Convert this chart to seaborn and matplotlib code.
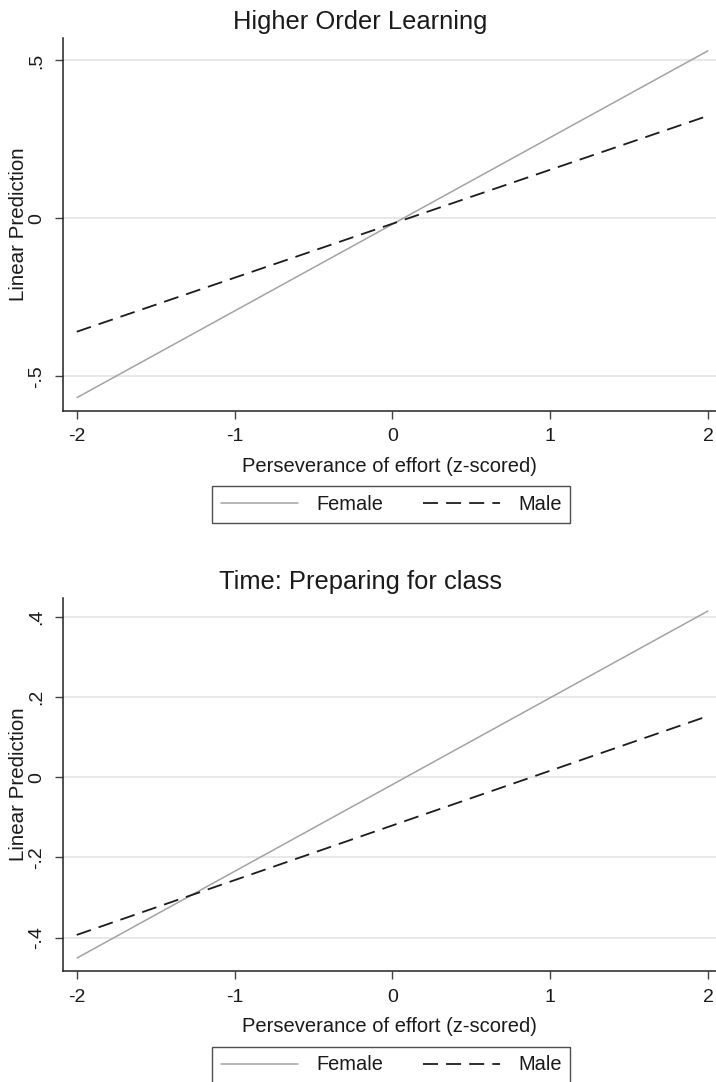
import matplotlib
matplotlib.use("Agg")
import matplotlib.pyplot as plt
import numpy as np
import pandas as pd
import seaborn as sns
from matplotlib.lines import Line2D

# Predicted outcomes at the ends of the effort range
effort_z = [-2, 2]
hol_female = [-0.568, 0.531]
hol_male = [-0.359, 0.325]
prep_female = [-0.451, 0.415]
prep_male = [-0.393, 0.153]

sexes = ["Female", "Male"]
hol_yticks = [-0.5, 0.0, 0.5]
hol_ylabels = ["-.5", "0", ".5"]
prep_yticks = [-0.4, -0.2, 0.0, 0.2, 0.4]
prep_ylabels = ["-.4", "-.2", "0", ".2", ".4"]
xticks = [-2, -1, 0, 1, 2]
xlabels = ["-2", "-1", "0", "1", "2"]

sns.set_theme(style="white")
plt.rcParams["font.family"] = ["Liberation Sans", "DejaVu Sans"]
plt.rcParams["text.color"] = "#1a1a1a"

W, H = 716, 1082
fig = plt.figure(figsize=(W / 100, H / 100), dpi=100)
fig.patch.set_facecolor("white")

palette = {"Female": "#a3a3a3", "Male": "#1c1c1c"}
dash_map = {"Female": "", "Male": (8.3, 4.5)}
widths = {"Female": 1.1, "Male": 1.3}


def make_frame(female, male):
    return pd.DataFrame({
        "effort": effort_z + effort_z,
        "pred": list(female) + list(male),
        "sex": [sexes[0]] * len(effort_z) + [sexes[1]] * len(effort_z),
    })


def draw_panel(rect, title, female, male, yticks, ylabels, ylim):
    ax = fig.add_axes(rect)
    df = make_frame(female, male)
    sns.lineplot(data=df, x="effort", y="pred", hue="sex", style="sex",
                 hue_order=sexes, style_order=sexes, palette=palette,
                 dashes=dash_map, legend=False, ax=ax)
    for line, s in zip(ax.lines, sexes):
        line.set_linewidth(widths[s])
        line.set_solid_capstyle("butt")
        line.set_dash_capstyle("butt")
    ax.set_xlim(-2.085, 2.049)
    ax.set_ylim(*ylim)
    ax.set_yticks(yticks)
    ax.set_yticklabels(ylabels, rotation=90, va="center")
    ax.set_xticks(xticks)
    ax.set_xticklabels(xlabels)
    ax.grid(axis="y", color="#e2e2e2", linewidth=1.1)
    ax.grid(axis="x", visible=False)
    ax.set_axisbelow(True)
    for side in ["top", "right"]:
        ax.spines[side].set_visible(False)
    for side in ["left", "bottom"]:
        ax.spines[side].set_color("#222222")
        ax.spines[side].set_linewidth(1.1)
    ax.tick_params(axis="both", direction="out", length=5.8, width=1.0,
                   color="#444444", labelsize=14, labelcolor="#1a1a1a",
                   pad=7, left=True, bottom=True)
    ax.set_xlabel("Perseverance of effort (z-scored)", fontsize=14.5,
                  color="#1a1a1a", labelpad=8)
    ax.set_ylabel("Linear Prediction", fontsize=14.8, color="#1a1a1a")
    ax.yaxis.set_label_coords(-0.054, 0.5)
    ax.set_title(title, fontsize=18.4, color="#1a1a1a", x=0.455, pad=6.5)
    return ax


x0 = 63.3 / W
aw = (716 - 63.3) / W
ax1 = draw_panel([x0, 1 - 410.7 / H, aw, (410.7 - 38.3) / H],
                 "Higher Order Learning", hol_female, hol_male,
                 hol_yticks, hol_ylabels, (-0.609, 0.570))
ax2 = draw_panel([x0, 1 - 971 / H, aw, (971 - 598) / H],
                 "Time: Preparing for class", prep_female, prep_male,
                 prep_yticks, prep_ylabels, (-0.483, 0.447))

handles = [
    Line2D([], [], color=palette["Female"], linewidth=widths["Female"]),
    Line2D([], [], color=palette["Male"], linewidth=widths["Male"],
           dashes=dash_map["Male"], dash_capstyle="butt"),
]


def add_legend(cy):
    leg = fig.legend(handles, sexes, ncol=2, loc="center",
                     bbox_to_anchor=(391.2 / W, cy), frameon=True,
                     fancybox=False, edgecolor="#222222", fontsize=14.4,
                     handlelength=3.85, handletextpad=0.9,
                     columnspacing=2.0, borderpad=0.45)
    leg.get_frame().set_linewidth(1.0)
    return leg


add_legend(1 - 504.9 / H)
add_legend(1 - 1065 / H)

fig.savefig("out.png", dpi=100, facecolor="white")
